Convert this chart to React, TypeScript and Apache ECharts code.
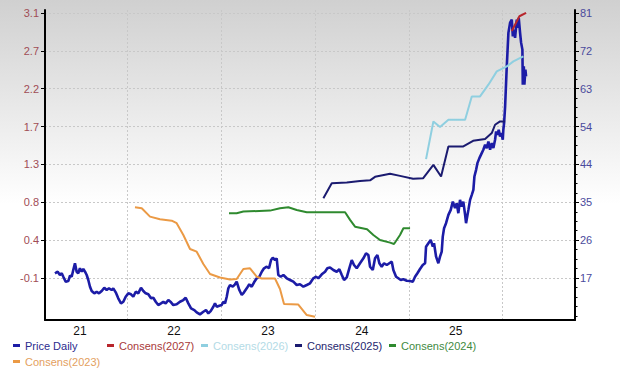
import React, { useEffect, useRef } from "react";
import * as echarts from "echarts";

// x values are decimal years
const priceYears = [
  2021.233, 2021.262, 2021.286, 2021.305, 2021.322, 2021.347, 2021.375, 2021.393, 2021.411, 2021.428,
  2021.446, 2021.464, 2021.481, 2021.499, 2021.518, 2021.535, 2021.553, 2021.571, 2021.588, 2021.606,
  2021.624, 2021.652, 2021.677, 2021.702, 2021.731, 2021.758, 2021.784, 2021.808, 2021.837, 2021.854,
  2021.88, 2021.907, 2021.936, 2021.961, 2021.986, 2022.014, 2022.043, 2022.067, 2022.093, 2022.12,
  2022.149, 2022.174, 2022.199, 2022.227, 2022.256, 2022.28, 2022.306, 2022.333, 2022.362, 2022.387,
  2022.412, 2022.44, 2022.469, 2022.493, 2022.529, 2022.564, 2022.6, 2022.625, 2022.653, 2022.682,
  2022.717, 2022.742, 2022.777, 2022.813, 2022.841, 2022.866, 2022.891, 2022.919, 2022.937, 2022.955,
  2022.983, 2023.009, 2023.026, 2023.044, 2023.062, 2023.079, 2023.097, 2023.126, 2023.15, 2023.168,
  2023.196, 2023.222, 2023.246, 2023.275, 2023.302, 2023.328, 2023.353, 2023.381, 2023.409, 2023.435,
  2023.459, 2023.488, 2023.512, 2023.534, 2023.552, 2023.576, 2023.594, 2023.611, 2023.637, 2023.665,
  2023.701, 2023.736, 2023.771, 2023.807, 2023.842, 2023.878, 2023.914, 2023.949, 2023.984, 2024.013,
  2024.037, 2024.074, 2024.109, 2024.133, 2024.162, 2024.197, 2024.233, 2024.261, 2024.287, 2024.311,
  2024.34, 2024.367, 2024.393, 2024.417, 2024.446, 2024.481, 2024.517, 2024.545, 2024.57, 2024.588,
  2024.617, 2024.641, 2024.666, 2024.687, 2024.712, 2024.737, 2024.766, 2024.793, 2024.819, 2024.836,
  2024.865, 2024.889, 2024.915, 2024.943, 2024.979, 2025.014, 2025.043, 2025.067, 2025.092, 2025.12,
  2025.149, 2025.174, 2025.184, 2025.209, 2025.234, 2025.256, 2025.269, 2025.291, 2025.315, 2025.333,
  2025.351, 2025.362, 2025.376, 2025.397, 2025.422, 2025.447, 2025.469, 2025.493, 2025.511, 2025.528,
  2025.546, 2025.564, 2025.581, 2025.6, 2025.61, 2025.635, 2025.653, 2025.671, 2025.688, 2025.699,
  2025.717, 2025.731, 2025.752, 2025.777, 2025.794, 2025.813, 2025.831, 2025.848, 2025.866, 2025.884,
  2025.901, 2025.919, 2025.93, 2025.944, 2025.958, 2025.972, 2025.986, 2026.001, 2026.007, 2026.015,
  2026.026, 2026.042, 2026.061, 2026.079, 2026.097, 2026.108, 2026.121, 2026.132, 2026.15, 2026.161,
  2026.171, 2026.185, 2026.196, 2026.21, 2026.214, 2026.225, 2026.231, 2026.242, 2026.249,
];
const priceValues = [
  18.14, 18.52, 17.73, 18.14, 17.31, 16.11, 16.27, 17.56, 17.31, 18.93,
  20.56, 18.52, 18.14, 19.35, 18.52, 19.18, 18.52, 17.73, 16.52, 14.9,
  13.86, 13.3, 13.69, 13.3, 13.86, 14.65, 14.1, 14.51, 14.1, 14.51,
  13.54, 12.09, 10.88, 11.27, 12.48, 13.3, 13.06, 12.48, 13.69, 13.3,
  14.65, 13.86, 13.3, 13.06, 12.09, 12.24, 11.27, 10.47, 10.88, 11.27,
  10.88, 11.68, 11.12, 10.47, 10.64, 11.27, 11.68, 12.24, 10.88, 9.67,
  9.26, 8.7, 8.22, 8.85, 9.26, 8.46, 9.02, 10.06, 10.88, 10.06,
  10.3, 10.47, 11.27, 10.88, 12.48, 14.51, 15.31, 14.9, 15.48, 16.11,
  14.1, 12.89, 13.54, 14.51, 15.48, 14.9, 15.96, 16.93, 17.31, 18.52,
  19.35, 19.73, 19.35, 21.35, 21.91, 21.35, 21.76, 17.73, 17.31, 17.73,
  16.93, 16.52, 16.11, 15.31, 15.48, 14.9, 15.31, 15.72, 16.93, 17.31,
  16.93, 17.89, 18.52, 19.35, 19.54, 18.93, 18.52, 19.1, 17.73, 16.52,
  17.17, 19.35, 21.35, 20.14, 19.35, 20.56, 21.76, 22.97, 22.56, 19.73,
  18.93, 21.76, 22.56, 20.56, 19.73, 20.56, 20.14, 20.56, 20.94, 18.93,
  17.31, 16.93, 16.52, 16.69, 16.35, 16.27, 16.11, 17.31, 18.14, 19.18,
  20.14, 20.56, 24.57, 25.39, 26.19, 24.57, 25.39, 22.15, 20.56, 22.15,
  23.36, 26.99, 29.02, 30.23, 32.24, 33.45, 35.45, 33.86, 35.07, 32.65,
  35.87, 34.25, 35.45, 32.24, 30.23, 33.45, 35.87, 37.08, 38.28, 41.5,
  43.12, 44.74, 45.95, 47.16, 47.96, 49.17, 48.37, 49.97, 47.96, 49.58,
  48.37, 50.38, 52.39, 51.59, 52.8, 51.18, 52.0, 50.38, 52.8, 54.42,
  58.43, 67.31, 76.19, 78.68, 79.4, 75.36, 76.98, 74.98, 79.4, 77.4,
  79.81, 76.26, 73.84, 72.15, 63.68, 68.11, 63.68, 67.31, 65.69,
];

const cons2027Years = [2026.097, 2026.178, 2026.249];
const cons2027Values = [2.9, 3.08, 3.12];

const cons2026Years = [2025.184, 2025.262, 2025.333, 2025.422, 2025.6, 2025.671, 2025.759, 2025.848, 2025.937, 2026.044, 2026.114, 2026.22];
const cons2026Values = [1.344, 1.802, 1.734, 1.823, 1.823, 2.106, 2.106, 2.249, 2.41, 2.471, 2.532, 2.593];

const cons2025Years = [2024.091, 2024.18, 2024.34, 2024.481, 2024.588, 2024.641, 2024.801, 2024.907, 2025.046, 2025.152, 2025.262, 2025.344, 2025.422, 2025.581, 2025.685, 2025.813, 2025.884, 2025.919, 2025.972, 2026.026];
const cons2025Values = [0.87, 1.052, 1.06, 1.08, 1.087, 1.129, 1.166, 1.141, 1.105, 1.111, 1.275, 1.133, 1.498, 1.498, 1.567, 1.588, 1.661, 1.762, 1.802, 1.802];

const cons2024Years = [2023.086, 2023.168, 2023.239, 2023.523, 2023.629, 2023.718, 2023.807, 2023.914, 2024.322, 2024.375, 2024.428, 2024.556, 2024.623, 2024.694, 2024.801, 2024.843, 2024.907, 2024.943, 2025.014];
const cons2024Values = [0.687, 0.687, 0.707, 0.719, 0.748, 0.76, 0.727, 0.7, 0.7, 0.606, 0.524, 0.493, 0.423, 0.362, 0.33, 0.314, 0.423, 0.505, 0.505];

const cons2023Years = [2022.085, 2022.157, 2022.245, 2022.351, 2022.476, 2022.529, 2022.6, 2022.671, 2022.742, 2022.813, 2022.884, 2022.99, 2023.097, 2023.168, 2023.239, 2023.31, 2023.381, 2023.435, 2023.576, 2023.629, 2023.672, 2023.824, 2023.914, 2024.002];
const cons2023Values = [0.76, 0.748, 0.646, 0.614, 0.597, 0.566, 0.423, 0.253, 0.22, 0.07, -0.051, -0.094, -0.118, -0.112, 0.01, 0.018, -0.084, -0.106, -0.106, -0.234, -0.416, -0.422, -0.55, -0.571];

const leftTicks = [-0.1, 0.36, 0.82, 1.28, 1.74, 2.2, 2.66, 3.12];
const leftTickLabels = ["-0.1", "0.4", "0.8", "1.3", "1.7", "2.2", "2.7", "3.1"];
const rightTicks = [17, 26.143, 35.286, 44.429, 53.571, 62.714, 71.857, 81];
const rightTickLabels = ["17", "26", "35", "44", "54", "63", "72", "81"];
const yearLines = [2022, 2023, 2024, 2025, 2026];
const yearLabelPos = [2021.5, 2022.5, 2023.5, 2024.5, 2025.5];
const yearLabels = ["21", "22", "23", "24", "25"];

const seriesNames = ["Price Daily", "Consens(2027)", "Consens(2026)", "Consens(2025)", "Consens(2024)", "Consens(2023)"];
const seriesColors = ["#1c1ca6", "#b8262c", "#8fcfe0", "#1b1b70", "#2f8a2f", "#eb9a45"];
const legendTextColors = ["#2b2b8e", "#a83a3a", "#b3dbe6", "#26266e", "#3f8a3f", "#e3a060"];

const FONT = "Liberation Sans";

function pick(arr: number[], labels: string[], v: number) {
  let best = 0;
  for (let i = 1; i < arr.length; i++) if (Math.abs(arr[i] - v) < Math.abs(arr[best] - v)) best = i;
  return Math.abs(arr[best] - v) < 0.01 ? labels[best] : "";
}

function zip(xs: number[], ys: number[]) {
  return xs.map((x, i) => [x, ys[i]]);
}

export default function App() {
  const ref = useRef<HTMLDivElement>(null);
  useEffect(() => {
    if (!ref.current) return;
    const chart = echarts.init(ref.current, undefined, { renderer: "svg" });
    const rightStep = (rightTicks[7] - rightTicks[0]) / 7;
    const minorTicks: number[] = [];
    for (let k = -4; k <= 28; k++) minorTicks.push(rightTicks[0] + (k * rightStep) / 4);

    const lineSeries = (i: number, xs: number[], ys: number[], axis: number, width: number) => ({
      name: seriesNames[i],
      type: "line",
      yAxisIndex: axis,
      data: zip(xs, ys),
      symbol: "none",
      showSymbol: false,
      lineStyle: { color: seriesColors[i], width },
      itemStyle: { color: seriesColors[i] },
      z: i === 0 ? 2 : 3,
    });

    chart.setOption({
      animation: false,
      grid: { left: 45, right: 45, top: 10, bottom: 51 },
      legend: {
        left: 8,
        top: 335,
        width: 480,
        itemWidth: 7,
        itemHeight: 3,
        itemGap: 5,
        icon: "rect",
        data: seriesNames.map((n, i) => ({ name: n, textStyle: { color: legendTextColors[i] } })),
        textStyle: { fontFamily: FONT, fontSize: 11, width: 77, lineHeight: 11 },
      },
      xAxis: {
        type: "value",
        min: 2021.127,
        max: 2026.77,
        axisLine: { show: true, onZero: false, lineStyle: { color: "#000", width: 2 } },
        axisTick: { show: false, customValues: yearLines },
        axisLabel: {
          customValues: yearLabelPos,
          formatter: (v: number) => pick(yearLabelPos, yearLabels, v),
          color: "#111",
          fontFamily: FONT,
          fontSize: 12,
          margin: 5,
        },
        splitLine: { show: true, lineStyle: { color: "#c8c8c8", type: [2, 2], width: 1 } },
      },
      yAxis: [
        {
          type: "value",
          position: "left",
          min: -0.61,
          max: 3.156,
          axisLine: { show: true, lineStyle: { color: "#000", width: 2 } },
          axisTick: { show: true, customValues: leftTicks, length: 4, lineStyle: { color: "#000" } },
          axisLabel: {
            customValues: leftTicks,
            formatter: (v: number) => pick(leftTicks, leftTickLabels, v),
            color: "#a04d55",
            fontFamily: FONT,
            fontSize: 11,
            margin: 6,
          },
          splitLine: { show: true, lineStyle: { color: "#c8c8c8", type: [2, 2], width: 1 } },
        },
        {
          type: "value",
          position: "right",
          min: 6.86,
          max: 81.72,
          axisLine: { show: true, lineStyle: { color: "#000", width: 2 } },
          axisTick: { show: true, customValues: rightTicks, length: 4, lineStyle: { color: "#000" } },
          axisLabel: {
            customValues: rightTicks,
            formatter: (v: number) => pick(rightTicks, rightTickLabels, v),
            color: "#4a4a9c",
            fontFamily: FONT,
            fontSize: 11,
            margin: 5,
          },
          splitLine: { show: false },
        },
        {
          type: "value",
          position: "right",
          min: 6.86,
          max: 81.72,
          axisLine: { show: false },
          axisTick: { show: true, customValues: minorTicks, length: 2.5, lineStyle: { color: "#000" } },
          axisLabel: { show: false },
          splitLine: { show: false },
        },
      ],
      series: [
        lineSeries(0, priceYears, priceValues, 1, 2.6),
        lineSeries(1, cons2027Years, cons2027Values, 0, 2),
        lineSeries(2, cons2026Years, cons2026Values, 0, 2),
        lineSeries(3, cons2025Years, cons2025Values, 0, 2),
        lineSeries(4, cons2024Years, cons2024Values, 0, 2),
        lineSeries(5, cons2023Years, cons2023Values, 0, 2),
      ],
    });
    return () => chart.dispose();
  }, []);
  return (
    <div
      ref={ref}
      style={{
        position: "absolute",
        left: 0,
        top: 0,
        width: 620,
        height: 371,
        background: "linear-gradient(to bottom, #d0d0d0 0%, #ffffff 55%, #ffffff 100%)",
      }}
    />
  );
}
